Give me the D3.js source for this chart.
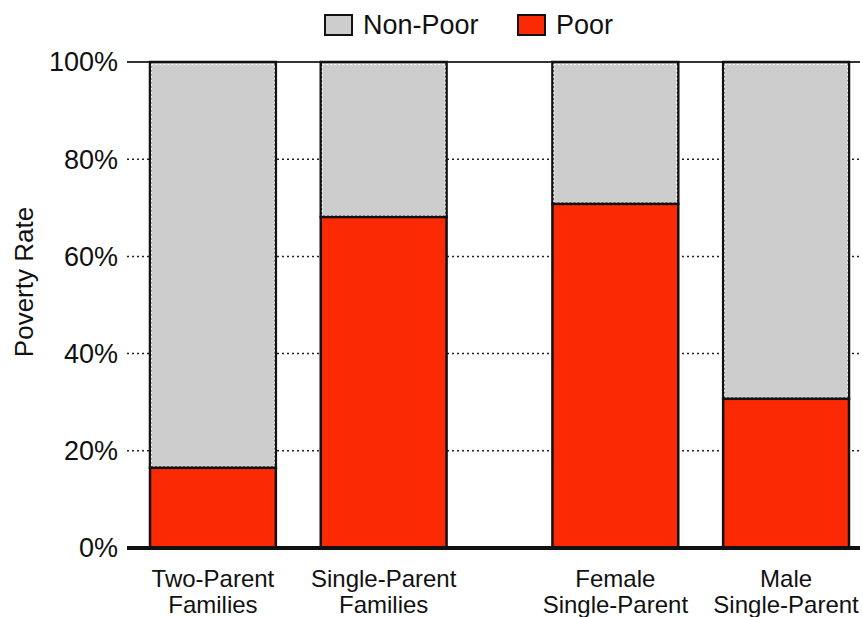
<!DOCTYPE html>
<html>
<head>
<meta charset="utf-8">
<script src="https://cdn.jsdelivr.net/npm/d3@7/dist/d3.min.js"></script>
<style>
  html, body { margin: 0; padding: 0; background: #fff; }
  svg { display: block; font-family: "Liberation Sans", Arial, sans-serif; }
</style>
</head>
<body>
<svg id="chart" width="863" height="617"></svg>
<script>
// Family types, grouped: all families vs. single parents by sex
const groups = ["All", "BySex"];
const categories = [
  ["Two-Parent", "Families"],
  ["Single-Parent", "Families"],
  ["Female", "Single-Parent"],
  ["Male", "Single-Parent"]
];
const categoryGroup = ["All", "All", "BySex", "BySex"];
// Share of families in poverty (%)
const poor = [16.5, 68.1, 70.8, 30.7];
const nonPoor = poor.map(p => 100 - p);
const yTicks = [0, 20, 40, 60, 80, 100];
const seriesNames = ["Non-Poor", "Poor"];
const seriesColors = { "Non-Poor": "#cdcdcd", "Poor": "#fb2a04" };

const svg = d3.select("#chart");

const y = d3.scaleLinear().domain([0, 100]).range([548, 62]);
const xGroup = d3.scaleBand().domain(groups).range([150, 849]).paddingInner(0.263).paddingOuter(0);
const xInner = d3.scaleBand().domain([0, 1]).range([0, xGroup.bandwidth()]).paddingInner(0.263).paddingOuter(0);
const barX = i => xGroup(categoryGroup[i]) + xInner(categoryGroup.slice(0, i).filter(g => g === categoryGroup[i]).length);
const axisX0 = 127, axisX1 = 860;

// Dotted gridlines behind the bars
svg.append("g").selectAll("line")
  .data(yTicks.filter(t => t > 0 && t < 100))
  .join("line")
  .attr("x1", axisX0).attr("x2", axisX1)
  .attr("y1", d => y(d)).attr("y2", d => y(d))
  .attr("stroke", "#222").attr("stroke-width", 1.5)
  .attr("stroke-dasharray", "2,3");

// Solid top line at 100%
svg.append("line")
  .attr("x1", axisX0).attr("x2", axisX1)
  .attr("y1", y(100)).attr("y2", y(100))
  .attr("stroke", "#333").attr("stroke-width", 2);

// Stacked bars: Poor at the bottom, Non-Poor on top
const bars = svg.append("g");
categories.forEach((c, i) => {
  const x0 = barX(i), w = xInner.bandwidth();
  bars.append("rect")
    .attr("x", x0).attr("y", y(100))
    .attr("width", w).attr("height", y(poor[i]) - y(100))
    .attr("fill", seriesColors["Non-Poor"])
    .attr("stroke", "#111").attr("stroke-width", 2.5);
  bars.append("rect")
    .attr("x", x0 + 1.5).attr("y", y(100) + 2.5)
    .attr("width", w - 3).attr("height", Math.max(0, y(poor[i]) - y(100) - 4))
    .attr("fill", "none")
    .attr("stroke", "#fff").attr("stroke-width", 1).attr("stroke-dasharray", "2,2");
  bars.append("rect")
    .attr("x", x0).attr("y", y(poor[i]))
    .attr("width", w).attr("height", y(0) - y(poor[i]))
    .attr("fill", seriesColors["Poor"])
    .attr("stroke", "#111").attr("stroke-width", 2.5);
});

// Baseline
svg.append("line")
  .attr("x1", axisX0).attr("x2", axisX1)
  .attr("y1", y(0)).attr("y2", y(0))
  .attr("stroke", "#111").attr("stroke-width", 4);

// Y tick labels
svg.append("g").selectAll("text")
  .data(yTicks)
  .join("text")
  .attr("x", 118).attr("y", d => y(d))
  .attr("dy", "0.35em")
  .attr("text-anchor", "end")
  .attr("font-size", 27)
  .attr("fill", "#111")
  .text(d => d + "%");

// Y axis title
svg.append("text")
  .attr("transform", "translate(33,282) rotate(-90)")
  .attr("text-anchor", "middle")
  .attr("font-size", 26)
  .attr("fill", "#111")
  .text("Poverty Rate");

// Category labels (two lines each)
const catLabels = svg.append("g");
categories.forEach((lines, i) => {
  const cx = barX(i) + xInner.bandwidth() / 2;
  lines.forEach((t, k) => {
    catLabels.append("text")
      .attr("x", cx).attr("y", 587 + k * 26)
      .attr("text-anchor", "middle")
      .attr("font-size", 24)
      .attr("fill", "#111")
      .text(t);
  });
});

// Legend
const legend = svg.append("g");
const legendX = [325, 518];
seriesNames.forEach((name, i) => {
  legend.append("rect")
    .attr("x", legendX[i]).attr("y", 15)
    .attr("width", 27).attr("height", 20)
    .attr("fill", seriesColors[name])
    .attr("stroke", "#111").attr("stroke-width", 2);
  legend.append("text")
    .attr("x", legendX[i] + 38).attr("y", 25)
    .attr("dy", "0.35em")
    .attr("font-size", 27)
    .attr("fill", "#111")
    .text(name);
});
</script>
</body>
</html>
